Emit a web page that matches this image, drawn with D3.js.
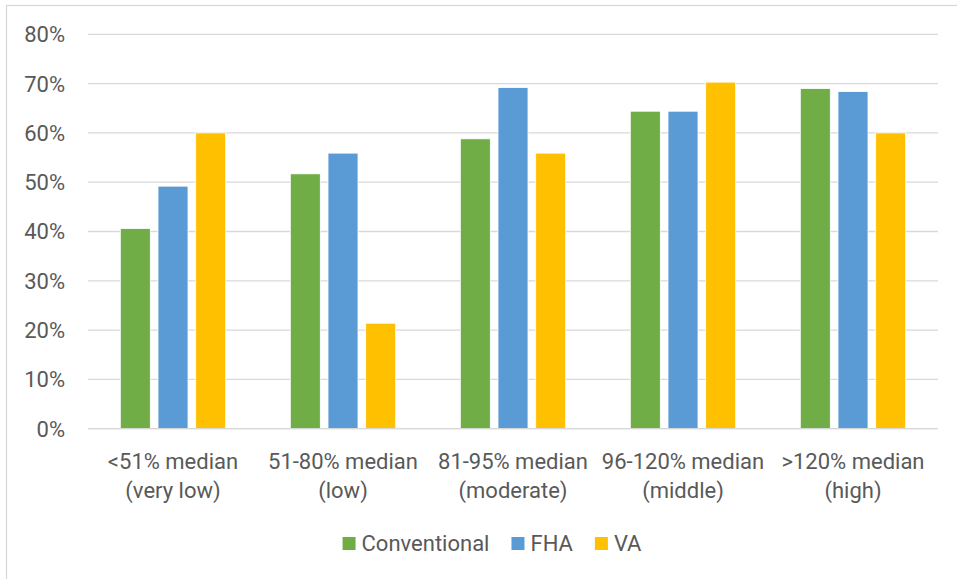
<!DOCTYPE html>
<html>
<head>
  <style>
    body { margin: 0; background: white; }
    text { font-family: Roboto, "Liberation Sans", sans-serif; fill: #595959; }
  </style>
</head>
<body>
  <div id="chart"></div>
  <script src="https://cdnjs.cloudflare.com/ajax/libs/d3/7.8.5/d3.min.js"></script>
  <script>
    const categories = [
      ["<51% median", "(very low)"],
      ["51-80% median", "(low)"],
      ["81-95% median", "(moderate)"],
      ["96-120% median", "(middle)"],
      [">120% median", "(high)"]
    ];
    const series = ["Conventional", "FHA", "VA"];
    const conventional = [40.6, 51.7, 58.8, 64.4, 69.0];
    const fha = [49.2, 55.9, 69.2, 64.4, 68.4];
    const va = [60.0, 21.4, 55.9, 70.3, 60.0];
    const yTicks = [0, 10, 20, 30, 40, 50, 60, 70, 80];
    const colors = ["#70AD47", "#5B9BD5", "#FFC000"];

    const width = 957, height = 579;
    const plot = { left: 88, right: 938, top: 34.3, bottom: 428.7 };

    const svg = d3.select("#chart").append("svg")
      .attr("width", width).attr("height", height);

    // chart border (only top/left visible in the crop)
    svg.append("rect")
      .attr("x", 6.5).attr("y", 5.5)
      .attr("width", 1000).attr("height", 1000)
      .attr("fill", "none").attr("stroke", "#d9d9d9").attr("stroke-width", 1.3);

    const labels = categories.map(c => c.join(" "));
    const x0 = d3.scaleBand().domain(labels).range([plot.left, plot.right]);
    const x1 = d3.scaleBand().domain(series).range([0, x0.bandwidth()])
      .paddingInner(0.204).paddingOuter(0.857);
    const y = d3.scaleLinear().domain([0, 80]).range([plot.bottom, plot.top]);

    // gridlines
    svg.append("g").selectAll("line").data(yTicks).join("line")
      .attr("x1", plot.left).attr("x2", plot.right)
      .attr("y1", d => y(d)).attr("y2", d => y(d))
      .attr("stroke", "#d9d9d9").attr("stroke-width", 1.3);

    // y labels
    svg.append("g").selectAll("text").data(yTicks).join("text")
      .attr("x", 65).attr("y", d => y(d))
      .attr("dy", "0.36em")
      .attr("text-anchor", "end")
      .attr("font-size", 22)
      .text(d => d + "%");

    // bars
    const values = [conventional, fha, va];
    const rows = [];
    labels.forEach((c, i) => series.forEach((s, j) => rows.push({ c, s, j, v: values[j][i] })));
    svg.append("g").selectAll("rect").data(rows).join("rect")
      .attr("x", d => x0(d.c) + x1(d.s))
      .attr("width", x1.bandwidth())
      .attr("y", d => y(d.v))
      .attr("height", d => y(0) - y(d.v))
      .attr("fill", d => colors[d.j])
      .attr("stroke", "white").attr("stroke-width", 0.8);

    // baseline
    svg.append("line")
      .attr("x1", plot.left).attr("x2", plot.right)
      .attr("y1", y(0)).attr("y2", y(0))
      .attr("stroke", "#d9d9d9").attr("stroke-width", 1.3);

    // category labels
    const cat = svg.append("g").selectAll("text").data(categories).join("text")
      .attr("x", (d, i) => x0(labels[i]) + x0.bandwidth() / 2)
      .attr("text-anchor", "middle")
      .attr("font-size", 22);
    cat.append("tspan").attr("y", 469).attr("x", (d, i) => x0(labels[i]) + x0.bandwidth() / 2).text(d => d[0]);
    cat.append("tspan").attr("y", 498).attr("x", (d, i) => x0(labels[i]) + x0.bandwidth() / 2).text(d => d[1]);

    // legend
    const legend = svg.append("g");
    let lx = 0;
    series.forEach((s, i) => {
      const item = legend.append("g").attr("transform", `translate(${lx},0)`);
      item.append("rect").attr("x", 0).attr("y", -14).attr("width", 13).attr("height", 13)
        .attr("fill", colors[i]);
      const t = item.append("text").attr("x", 19).attr("y", 0).attr("font-size", 22).text(s);
      lx += 19 + t.node().getComputedTextLength() + 22;
    });
    const total = lx - 22;
    legend.attr("transform", `translate(${492 - total / 2},551)`);
  </script>
</body>
</html>
